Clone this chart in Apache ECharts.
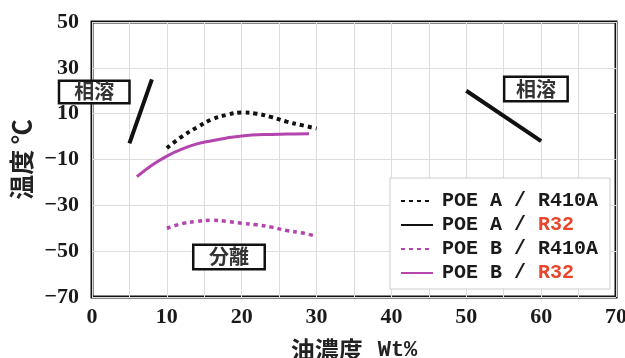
<!DOCTYPE html>
<html><head><meta charset="utf-8">
<script src="https://cdn.jsdelivr.net/npm/echarts@6/dist/echarts.min.js"></script>
<style>html,body{margin:0;padding:0;background:#fff}#c{width:625px;height:358px}</style>
</head><body><div id="c"></div>
<script>
// Data
var poeA_R410A = [[10,-5],[12,0],[14,4],[16,7.5],[18,9.5],[20,10.5],[22,10],[24,8.5],[26,6.5],[28,5],[30,3.5]];
var poeA_R32 = [[5,-3],[8,25],[30,'-'],[50,20],[60,-2]];
var poeB_R410A = [[10,-40],[12,-38],[14,-37],[16,-36.5],[18,-37],[20,-37.8],[22,-38.5],[24,-39.5],[26,-41],[28,-42],[30,-43.5]];
var poeB_R32 = [[6,-17.5],[8,-12.5],[10,-8.5],[12,-5.5],[14,-3.2],[16,-1.8],[18,-0.6],[20,0.3],[23,0.9],[26,1.1],[29,1.2]];
var seriesNames = ['POE A / R410A','POE A / R32','POE B / R410A','POE B / R32'];
var regionLabels = [
  {text:'相溶', coord:[0.3,19.5], size:[73,25]},
  {text:'相溶', coord:[59.3,20.8], size:[66,27]},
  {text:'分離', coord:[18.3,-52.5], size:[74,27]}
];
var xTicks = {min:0, max:70, interval:10};
var yTicks = {min:-70, max:50, interval:20};

var BLACK = '#111', MAG = '#b445ae', RED = '#e8462a';
var chart = echarts.init(document.getElementById('c'));
var monoFont = '"Liberation Mono", monospace';
var serifFont = '"Liberation Serif", serif';
var cjk = '"Noto Sans CJK JP", sans-serif';

chart.setOption({
  animation:false,
  backgroundColor:'#fff',
  grid:{left:92, right:9, top:22, bottom:61, show:true, borderColor:BLACK, borderWidth:3, backgroundColor:'#fff',
    containLabel:false, outerBoundsMode:'none'},
  xAxis:{type:'value', min:xTicks.min, max:xTicks.max, interval:xTicks.interval,
    name:'{c|油濃度}{s|}{m|Wt%}', nameLocation:'middle', nameGap:41,
    nameTextStyle:{rich:{
      c:{fontFamily:cjk, fontSize:24, fontWeight:'bold', color:'#222'},
      s:{width:15},
      m:{fontFamily:monoFont, fontSize:22, fontWeight:'bold', color:'#222'}}},
    axisLine:{show:false}, axisTick:{show:false},
    axisLabel:{fontFamily:serifFont, fontSize:22, fontWeight:'bold', color:'#1a1a1a', margin:9},
    splitLine:{show:true, lineStyle:{color:'#ddd', width:1}},
    minorTick:{show:false, splitNumber:2},
    minorSplitLine:{show:true, lineStyle:{color:'#ddd', width:1}}
  },
  yAxis:{type:'value', min:yTicks.min, max:yTicks.max, interval:yTicks.interval,
    name:'温度 ℃', nameLocation:'middle', nameGap:57,
    nameTextStyle:{fontFamily:cjk, fontSize:25, fontWeight:'bold', color:'#222'},
    axisLine:{show:false}, axisTick:{show:false},
    axisLabel:{fontFamily:serifFont, fontSize:22, fontWeight:'bold', color:'#1a1a1a', margin:13,
      formatter:function(v){return String(v).replace('-','−');}},
    splitLine:{show:true, lineStyle:{color:'#ddd', width:1}}
  },
  legend:{
    data:seriesNames, orient:'vertical', right:15, top:178,
    backgroundColor:'#fff', borderColor:'#ccc', borderWidth:1,
    padding:[13,12,6,10], itemWidth:32, itemHeight:1, itemGap:4,
    itemStyle:{opacity:0},
    formatter:function(n){
      var p = n.split(' / ');
      var cls = p[1]==='R32' ? 'r' : 'k';
      return '{k|'+p[0]+' / }{'+cls+'|'+p[1]+'}';
    },
    textStyle:{padding:[0,0,0,4], rich:{
      k:{fontFamily:monoFont, fontSize:20, fontWeight:'bold', color:'#1a1a1a', lineHeight:23},
      r:{fontFamily:monoFont, fontSize:20, fontWeight:'bold', color:RED, lineHeight:23}
    }}
  },
  series:[
    {name:seriesNames[0], type:'line', data:poeA_R410A, showSymbol:false, symbol:'none', smooth:0.4,
     lineStyle:{color:BLACK, width:4, type:[4,4]}, itemStyle:{color:BLACK}},
    {name:seriesNames[1], type:'line', data:poeA_R32, showSymbol:false, symbol:'none',
     lineStyle:{color:BLACK, width:4}, itemStyle:{color:BLACK},
     markPoint:{symbol:'rect', symbolSize:1, silent:true,
       data:regionLabels.map(function(r){return {coord:r.coord, value:r.text,
         label:{width:r.size[0]-5, height:r.size[1]-5, lineHeight:r.size[1]-5}};}),
       itemStyle:{color:'rgba(255,255,255,0)'},
       label:{show:true, position:'inside', align:'center', verticalAlign:'middle',
         formatter:function(p){return p.value;},
         backgroundColor:'#fff', borderColor:BLACK, borderWidth:2.5,
         fontFamily:cjk, fontSize:20, fontWeight:'bold', color:'#333'}}
    },
    {name:seriesNames[2], type:'line', data:poeB_R410A, showSymbol:false, symbol:'none', smooth:0.4,
     lineStyle:{color:MAG, width:3.5, type:[4,4]}, itemStyle:{color:MAG}},
    {name:seriesNames[3], type:'line', data:poeB_R32, showSymbol:false, symbol:'none', smooth:0.4,
     lineStyle:{color:MAG, width:3}, itemStyle:{color:MAG}}
  ]
});
</script></body></html>
